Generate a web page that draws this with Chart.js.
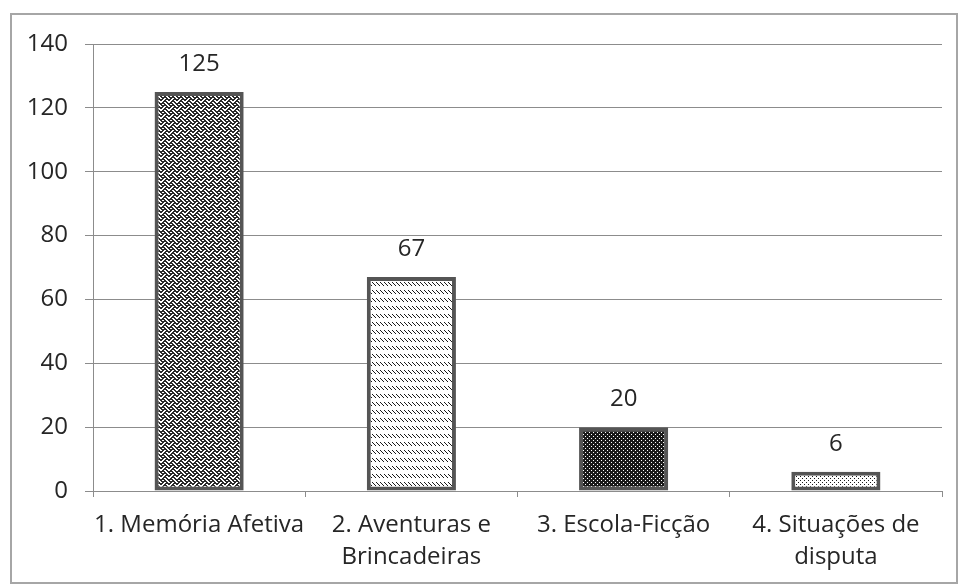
<!DOCTYPE html>
<html>
<head>
<meta charset="utf-8">
<script src="https://cdn.jsdelivr.net/npm/chart.js@4.4.1/dist/chart.umd.min.js"></script>
<style>
  html, body { margin: 0; padding: 0; background: #ffffff; }
  #wrap { width: 960px; height: 585px; position: relative; }
</style>
</head>
<body>
<div id="wrap"><canvas id="c" width="960" height="585"></canvas></div>
<script>
// Categories and counts
const categories = [
  "1. Memória Afetiva",
  ["2. Aventuras e", "Brincadeiras"],
  "3. Escola-Ficção",
  ["4. Situações de", "disputa"]
];
const counts = [125, 67, 20, 6];
const yTicks = [0, 20, 40, 60, 80, 100, 120, 140];

// 8x8 bit tiles for the hatch fills (1 = dark pixel)
const tileWeave = [0x88, 0x54, 0x22, 0x45, 0x88, 0x14, 0x22, 0x51];
const tileDashDiag = [0x00, 0x00, 0x88, 0x44, 0x22, 0x11, 0x00, 0x00];
const tileDark = [0xBB, 0xFF, 0xEE, 0xFF, 0xBB, 0xFF, 0xEE, 0xFF];
const tileDots = [0x88, 0x00, 0x22, 0x00, 0x88, 0x00, 0x22, 0x00];

// widen each dark pixel one step to the right
function thicken(bits) {
  return bits.map(b => (b | (b >> 1) | ((b & 1) << 7)) & 0xFF);
}

function makePattern(bits, fg, bg) {
  const t = document.createElement('canvas');
  t.width = 8; t.height = 8;
  const g = t.getContext('2d');
  g.fillStyle = bg; g.fillRect(0, 0, 8, 8);
  g.fillStyle = fg;
  for (let y = 0; y < 8; y++) {
    for (let x = 0; x < 8; x++) {
      if (bits[y] & (0x80 >> x)) g.fillRect(x, y, 1, 1);
    }
  }
  return document.getElementById('c').getContext('2d').createPattern(t, 'repeat');
}

const fills = [
  makePattern(thicken(tileWeave), '#2a2a2a', '#ffffff'),
  makePattern(tileDashDiag, '#1a1a1a', '#ffffff'),
  makePattern(tileDark, '#1a1a1a', '#ffffff'),
  makePattern(tileDots, '#1a1a1a', '#ffffff')
];

const FONT = "'Open Sans', 'Noto Sans', sans-serif";
const TEXT = '#262626';
const GRID = '#8c8c8c';

// Outer frame around the whole chart
const framePlugin = {
  id: 'frame',
  afterDraw(chart) {
    const ctx = chart.ctx;
    ctx.save();
    ctx.strokeStyle = '#a6a6a6';
    ctx.lineWidth = 2;
    ctx.strokeRect(11, 14, 946, 569);
    ctx.restore();
  }
};

// Value written above each bar
const valueLabels = {
  id: 'valueLabels',
  afterDatasetsDraw(chart) {
    const ctx = chart.ctx;
    const meta = chart.getDatasetMeta(0);
    ctx.save();
    ctx.font = '24px ' + FONT;
    ctx.fillStyle = TEXT;
    ctx.textAlign = 'center';
    ctx.textBaseline = 'alphabetic';
    meta.data.forEach((bar, i) => {
      ctx.fillText(String(counts[i]), bar.x, bar.y - 21);
    });
    ctx.restore();
  }
};

new Chart(document.getElementById('c'), {
  type: 'bar',
  data: {
    labels: categories,
    datasets: [{
      data: counts,
      backgroundColor: fills,
      borderColor: '#555555',
      borderWidth: 4,
      borderSkipped: false,
      categoryPercentage: 1,
      barPercentage: 0.42
    }]
  },
  options: {
    responsive: false,
    animation: false,
    layout: { padding: { left: 0, top: 44, right: 18, bottom: 0 } },
    plugins: { legend: { display: false }, tooltip: { enabled: false } },
    scales: {
      x: {
        grid: { display: true, drawOnChartArea: false, color: GRID, tickLength: 6, offset: true },
        border: { color: GRID, width: 1 },
        ticks: {
          color: TEXT, padding: 12, maxRotation: 0, autoSkip: false,
          font: { family: FONT, size: 24, lineHeight: 1.35 }
        },
        afterFit(scale) { scale.height = 94; }
      },
      y: {
        min: 0, max: 140,
        afterBuildTicks(scale) { scale.ticks = yTicks.map(v => ({ value: v })); },
        grid: { color: GRID, tickLength: 8 },
        border: { color: GRID, width: 1 },
        ticks: {
          color: TEXT, padding: 17,
          font: { family: FONT, size: 24 }
        },
        afterFit(scale) { scale.width = 93; }
      }
    }
  },
  plugins: [framePlugin, valueLabels]
});
</script>
</body>
</html>
